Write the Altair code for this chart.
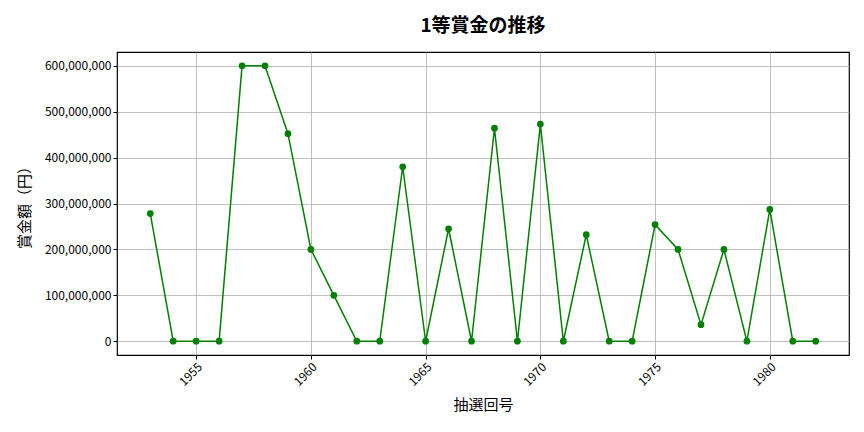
import altair as alt
import pandas as pd

years = list(range(1953, 1983))
prizes = [
    278_000_000, 0, 0, 0, 600_000_000, 600_000_000, 452_000_000, 200_000_000,
    100_000_000, 0, 0, 380_000_000, 0, 245_000_000, 0, 464_000_000, 0,
    473_000_000, 0, 232_000_000, 0, 0, 254_000_000, 200_000_000, 36_000_000,
    200_000_000, 0, 287_000_000, 0, 0,
]
x_ticks = [1955, 1960, 1965, 1970, 1975, 1980]
y_ticks = [0, 100_000_000, 200_000_000, 300_000_000, 400_000_000, 500_000_000, 600_000_000]

df = pd.DataFrame({"year": years, "prize": prizes})
FONT = "Noto Sans CJK JP"

base = alt.Chart(df).encode(
    x=alt.X("year:Q", title="抽選回号",
            scale=alt.Scale(domain=[1951.55, 1983.45], nice=False, zero=False),
            axis=alt.Axis(values=x_ticks, format="d", labelAngle=-45,
                          labelAlign="right", labelBaseline="top",
                          labelFontSize=12, titleFontSize=15, titlePadding=10)),
    y=alt.Y("prize:Q", title="賞金額（円）",
            scale=alt.Scale(domain=[-30_000_000, 630_000_000], nice=False, zero=False),
            axis=alt.Axis(values=y_ticks, format=",d", labelFontSize=12,
                          titleFontSize=15, titlePadding=12)),
)

line = base.mark_line(color="#008000", strokeWidth=1.5)
pts = base.mark_point(color="#008000", filled=True, opacity=1, size=45)

chart = (line + pts).properties(
    width=732, height=303,
    title=alt.TitleParams("1等賞金の推移", fontSize=19, font=FONT, fontWeight="bold",
                          anchor="middle", offset=16),
    autosize=alt.AutoSizeParams(type="none"),
    padding={"left": 109, "top": 44, "right": 7, "bottom": 69},
).configure_view(stroke="black", strokeWidth=1.2).configure_axis(
    labelFont=FONT, titleFont=FONT, labelColor="black", titleColor="black",
    grid=True, gridColor="#b0b0b0", gridWidth=0.8,
    domain=False, tickColor="black", tickSize=4, titleFontWeight="normal",
)

chart.save("out.html", embed_options={"renderer": "svg", "actions": False})
